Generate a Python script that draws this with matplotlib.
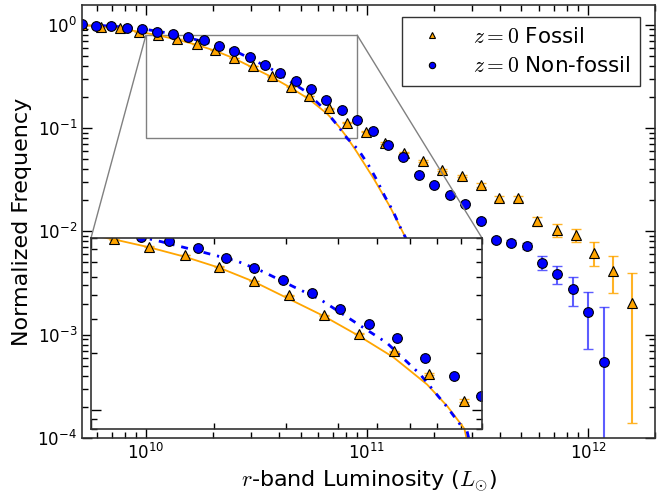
import matplotlib
matplotlib.use('Agg')
import matplotlib.pyplot as plt
import matplotlib.ticker as ticker
import numpy as np
from mpl_toolkits.axes_grid1.inset_locator import mark_inset

plt.rcParams['mathtext.fontset'] = 'cm'

# log10 of r-band luminosity (L_sun) and normalized frequency
fos_logL = [9.711, 9.796, 9.882, 9.970, 10.056, 10.142, 10.229, 10.313, 10.398,
            10.484, 10.569, 10.655, 10.739, 10.826, 10.911, 10.995, 11.081,
            11.169, 11.255, 11.341, 11.429, 11.515, 11.599, 11.685, 11.771,
            11.858, 11.944, 12.028, 12.112, 12.198]
fos_freq = [1.0, 0.955, 0.925, 0.858, 0.786, 0.722, 0.652, 0.566, 0.476,
            0.400, 0.316, 0.252, 0.204, 0.155, 0.1127, 0.0923, 0.0713,
            0.0578, 0.0483, 0.0393, 0.0344, 0.0281, 0.0209, 0.0209, 0.0126,
            0.0103, 0.00923, 0.00622, 0.00414, 0.00204]
fos_err = [0.002, 0.002, 0.002, 0.002, 0.002, 0.002, 0.002, 0.002, 0.002,
           0.002, 0.002, 0.002, 0.002, 0.002, 0.002, 0.0015, 0.0012,
           0.001, 0.001, 0.001, 0.0009, 0.001, 0.0012, 0.0013, 0.0013,
           0.0015, 0.0014, 0.0016, 0.0016, 0.0019]

non_logL = [9.709, 9.774, 9.842, 9.913, 9.983, 10.051, 10.122, 10.191, 10.260,
            10.329, 10.399, 10.469, 10.540, 10.608, 10.678, 10.747, 10.816,
            10.887, 10.953, 11.026, 11.096, 11.164, 11.235, 11.305, 11.376,
            11.445, 11.514, 11.582, 11.652, 11.723, 11.790, 11.861, 11.932,
            12.000, 12.071]
non_freq = [1.02, 0.98, 0.97, 0.925, 0.904, 0.858, 0.808, 0.768, 0.706,
            0.628, 0.556, 0.485, 0.411, 0.338, 0.282, 0.239, 0.188,
            0.151, 0.119, 0.0937, 0.069, 0.0522, 0.0349, 0.0279, 0.0226,
            0.0183, 0.0127, 0.00826, 0.00778, 0.00722, 0.00498, 0.00387, 0.00275,
            0.00166, 0.000544]
non_err = [0.002, 0.002, 0.002, 0.002, 0.002, 0.002, 0.002, 0.002, 0.002,
           0.002, 0.002, 0.002, 0.002, 0.002, 0.002, 0.002, 0.002,
           0.0015, 0.0012, 0.001, 0.0008, 0.0007, 0.0006, 0.0005, 0.0004,
           0.0004, 0.0004, 0.0004, 0.0004, 0.0005, 0.0008, 0.0008, 0.00086,
           0.00093, 0.0013]

# fitted curves
fos_fit_logL = [9.70, 9.80, 9.90, 10.00, 10.07, 10.142, 10.229, 10.313, 10.398,
                10.461, 10.567, 10.652, 10.738, 10.82, 10.87, 10.908, 10.953,
                11.029, 11.104, 11.172, 11.25, 11.35, 11.45, 11.50]
fos_fit = [1.0, 0.955, 0.905, 0.83, 0.775, 0.715, 0.638, 0.559, 0.472,
           0.405, 0.313, 0.247, 0.19, 0.137, 0.105, 0.082, 0.059,
           0.0327, 0.0173, 0.0089, 0.0038, 0.0009, 1.0e-4, 3e-5]
non_fit_logL = [9.70, 9.80, 9.90, 10.00, 10.10, 10.172, 10.278, 10.356, 10.42,
                10.494, 10.559, 10.640, 10.722, 10.803, 10.868, 10.909, 10.961,
                11.006, 11.044, 11.081, 11.119, 11.149, 11.25, 11.35, 11.46, 11.52]
non_fit = [1.0, 0.98, 0.95, 0.90, 0.83, 0.765, 0.67, 0.606, 0.533,
           0.445, 0.382, 0.294, 0.226, 0.155, 0.105, 0.08, 0.0614,
           0.044, 0.0315, 0.0217, 0.0155, 0.0111, 0.0042, 0.001, 1.0e-4, 2.5e-5]

orange = '#FFA500'
blue = '#0000FF'


def draw(ax):
    ax.plot(10**np.array(fos_fit_logL), fos_fit, '-', color=orange, lw=1.3)
    ax.plot(10**np.array(non_fit_logL), non_fit, color=blue, lw=2,
            dashes=(2.5, 2.5, 0.8, 2.5))
    ax.errorbar(10**np.array(fos_logL), fos_freq, yerr=fos_err, fmt='none',
                ecolor=(1.0, 0.65, 0.0, 0.85), elinewidth=1.5, capsize=3.5)
    ax.errorbar(10**np.array(non_logL), non_freq, yerr=non_err, fmt='none',
                ecolor=(0.25, 0.25, 1.0, 0.85), elinewidth=1.5, capsize=3.5)
    ax.plot(10**np.array(fos_logL), fos_freq, '^', color=orange, mec='k',
            mew=0.8, ms=6.5, label='$z=0$ Fossil')
    ax.plot(10**np.array(non_logL), non_freq, 'o', color=blue, mec='k',
            mew=0.8, ms=7, label='$z=0$ Non-fossil')
    ax.set_xscale('log')
    ax.set_yscale('log')


def style_ticks(ax):
    ax.tick_params(which='major', direction='in', length=7, width=1.0,
                   top=True, right=True)
    ax.tick_params(which='minor', direction='in', length=4, width=1.0,
                   top=True, right=True)
    for s in ax.spines.values():
        s.set_linewidth(1.2)
        s.set_color('0.2')


fig = plt.figure(figsize=(6.63, 4.97), dpi=100)
ax = fig.add_axes([82/663, 59/497, 573/663, 433/497])
draw(ax)
ax.set_xlim(5.13e9, 2.01e12)
ax.set_ylim(1e-4, 1.55)
ax.xaxis.set_minor_locator(ticker.LogLocator(base=10, subs=np.arange(2, 10), numticks=30))
ax.yaxis.set_minor_locator(ticker.LogLocator(base=10, subs=np.arange(2, 10), numticks=30))
ax.xaxis.set_minor_formatter(ticker.NullFormatter())
ax.yaxis.set_minor_formatter(ticker.NullFormatter())
style_ticks(ax)
ax.tick_params(labelsize=12)
ax.set_xlabel('$r$-band Luminosity ($L_{\\odot}$)', fontsize=16)
ax.set_ylabel('Normalized Frequency', fontsize=16)

leg = ax.legend(loc='upper right', bbox_to_anchor=(0.974, 0.972),
                borderaxespad=0, numpoints=1, markerscale=0.65, fontsize=15.5,
                fancybox=False, edgecolor='k', handlelength=1.9,
                handletextpad=0.95, borderpad=0.45, labelspacing=0.45)
leg.get_frame().set_linewidth(1.0)

axins = fig.add_axes([91/663, 68/497, 391/663, 191/497])
draw(axins)
axins.set_xlim(1e10, 9e10)
axins.set_ylim(0.08, 0.8)
minor_x = [k * 1e10 for k in range(2, 10)]
minor_y = [k * 0.01 for k in range(8, 10)] + [k * 0.1 for k in range(2, 9)]
axins.xaxis.set_major_locator(ticker.FixedLocator([1e10]))
axins.yaxis.set_major_locator(ticker.FixedLocator([0.1]))
axins.xaxis.set_minor_locator(ticker.FixedLocator(minor_x))
axins.yaxis.set_minor_locator(ticker.FixedLocator(minor_y))
for axis in (axins.xaxis, axins.yaxis):
    axis.set_major_formatter(ticker.NullFormatter())
    axis.set_minor_formatter(ticker.NullFormatter())
style_ticks(axins)
mark_inset(ax, axins, loc1=1, loc2=2, fc='none', ec='0.5', lw=1)

fig.savefig('out.png', dpi=100)
